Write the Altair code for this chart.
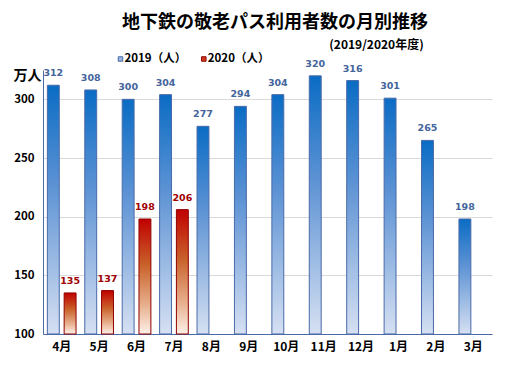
import altair as alt
import pandas as pd

months = ["4月", "5月", "6月", "7月", "8月", "9月", "10月", "11月", "12月", "1月", "2月", "3月"]
v2019 = [312, 308, 300, 304, 277, 294, 304, 320, 316, 301, 265, 198]
v2020 = [135, 137, 198, 206]
series = ["2019", "2020"]
legend_labels = ["2019（人）", "2020（人）"]
y_ticks = [100, 150, 200, 250, 300]
title_text = "地下鉄の敬老パス利用者数の月別推移"
subtitle_text = "(2019/2020年度)"
unit_text = "万人"

rows = []
for m, v in zip(months, v2019):
    rows.append({"month": m, "series": "2019", "value": v})
for m, v in zip(months, v2020):
    rows.append({"month": m, "series": "2020", "value": v})
df = pd.DataFrame(rows)

FONT = "Noto Sans CJK JP"
BLUE_LINE = "#4a6aa8"
blue_grad = alt.LinearGradient(
    gradient="linear", x1=0, y1=0, x2=0, y2=1,
    stops=[alt.GradientStop(offset=0, color="#0a6cc4"),
           alt.GradientStop(offset=0.4, color="#5c92d4"),
           alt.GradientStop(offset=1, color="#d6e0f2")])
red_grad = alt.LinearGradient(
    gradient="linear", x1=0, y1=0, x2=0, y2=1,
    stops=[alt.GradientStop(offset=0, color="#c00000"),
           alt.GradientStop(offset=0.4, color="#c9622a"),
           alt.GradientStop(offset=0.75, color="#e8b08f"),
           alt.GradientStop(offset=1, color="#fdf0e8")])

x_enc = alt.X("month:N", sort=months,
              scale=alt.Scale(paddingInner=0, paddingOuter=0),
              axis=alt.Axis(title=None, labelAngle=0, ticks=False, domainColor=BLUE_LINE,
                            labelFont=FONT, labelFontWeight="bold", labelFontSize=12,
                            labelColor="#000000", labelPadding=7, grid=False))
xo_enc = alt.XOffset("series:N", scale=alt.Scale(domain=series, paddingInner=0.29, paddingOuter=0.26))
y_enc = alt.Y("value:Q", scale=alt.Scale(domain=[100, 325], zero=False, nice=False),
              axis=alt.Axis(values=y_ticks, title=unit_text, titleAngle=0, titleX=-30, titleY=5,
                            titleAlign="left", titleBaseline="middle", titleFont=FONT,
                            titleFontSize=14, titleFontWeight="bold", titleColor="#000000",
                            ticks=False, domainColor=BLUE_LINE, gridColor="#d9d9d9",
                            labelFont=FONT, labelFontWeight="bold", labelFontSize=11.5,
                            labelColor="#000000", labelPadding=9))

base = alt.Chart(df)
bars19 = base.transform_filter(alt.datum.series == "2019").mark_bar(
    fill=blue_grad, stroke=BLUE_LINE, strokeWidth=1).encode(
    x=x_enc, xOffset=xo_enc, y=y_enc, y2=alt.datum(100))
bars20 = base.transform_filter(alt.datum.series == "2020").mark_bar(
    fill=red_grad, stroke="#900000", strokeWidth=1).encode(
    x=x_enc, xOffset=xo_enc, y=y_enc, y2=alt.datum(100))
lab19 = base.transform_filter(alt.datum.series == "2019").mark_text(
    font="DejaVu Sans", fontWeight="bold", fontSize=9.5, color="#44649c", dy=-12,
    baseline="middle").encode(x=x_enc, xOffset=xo_enc, y=y_enc, text="value:Q")
lab20 = base.transform_filter(alt.datum.series == "2020").mark_text(
    font="DejaVu Sans", fontWeight="bold", fontSize=9.5, color="#a00000", dy=-12,
    baseline="middle").encode(x=x_enc, xOffset=xo_enc, y=y_enc, text="value:Q")

one = alt.Data(values=[{"a": 1}])
title = alt.Chart(one).mark_text(text=title_text, font=FONT, fontSize=18, fontWeight="bold",
                                 color="#000000", align="center", baseline="middle").encode(
    x=alt.value(232), y=alt.value(-47.5))
subtitle = alt.Chart(one).mark_text(text=subtitle_text, font=FONT, fontSize=12, fontWeight="bold",
                                    color="#000000", align="center", baseline="middle").encode(
    x=alt.value(333.5), y=alt.value(-25.5))

legend_layers = []
leg_fill = ["#9ab6e0", "#d04020"]
leg_stroke = [BLUE_LINE, "#900000"]
leg_x = [77.5, 160.8]
for i, lab in enumerate(legend_labels):
    legend_layers.append(alt.Chart(one).mark_point(shape="square", size=20, filled=True,
                                                    fill=leg_fill[i], stroke=leg_stroke[i],
                                                    strokeWidth=1, opacity=1).encode(
        x=alt.value(leg_x[i]), y=alt.value(-11)))
    legend_layers.append(alt.Chart(one).mark_text(text=lab, font=FONT, fontSize=11.5, fontWeight="bold",
                                                   color="#000000", align="left", baseline="middle").encode(
        x=alt.value(leg_x[i] + 4), y=alt.value(-11)))

chart = alt.layer(bars19, bars20, lab19, lab20, title, subtitle, *legend_layers).properties(
    width=449, height=264,
    autosize=alt.AutoSizeParams(type="none"),
    padding={"left": 35, "top": 62, "right": 7, "bottom": 28},
    background="#ffffff",
).configure_view(stroke=None)

chart.save("out.html", embed_options={"renderer": "svg", "actions": False})
